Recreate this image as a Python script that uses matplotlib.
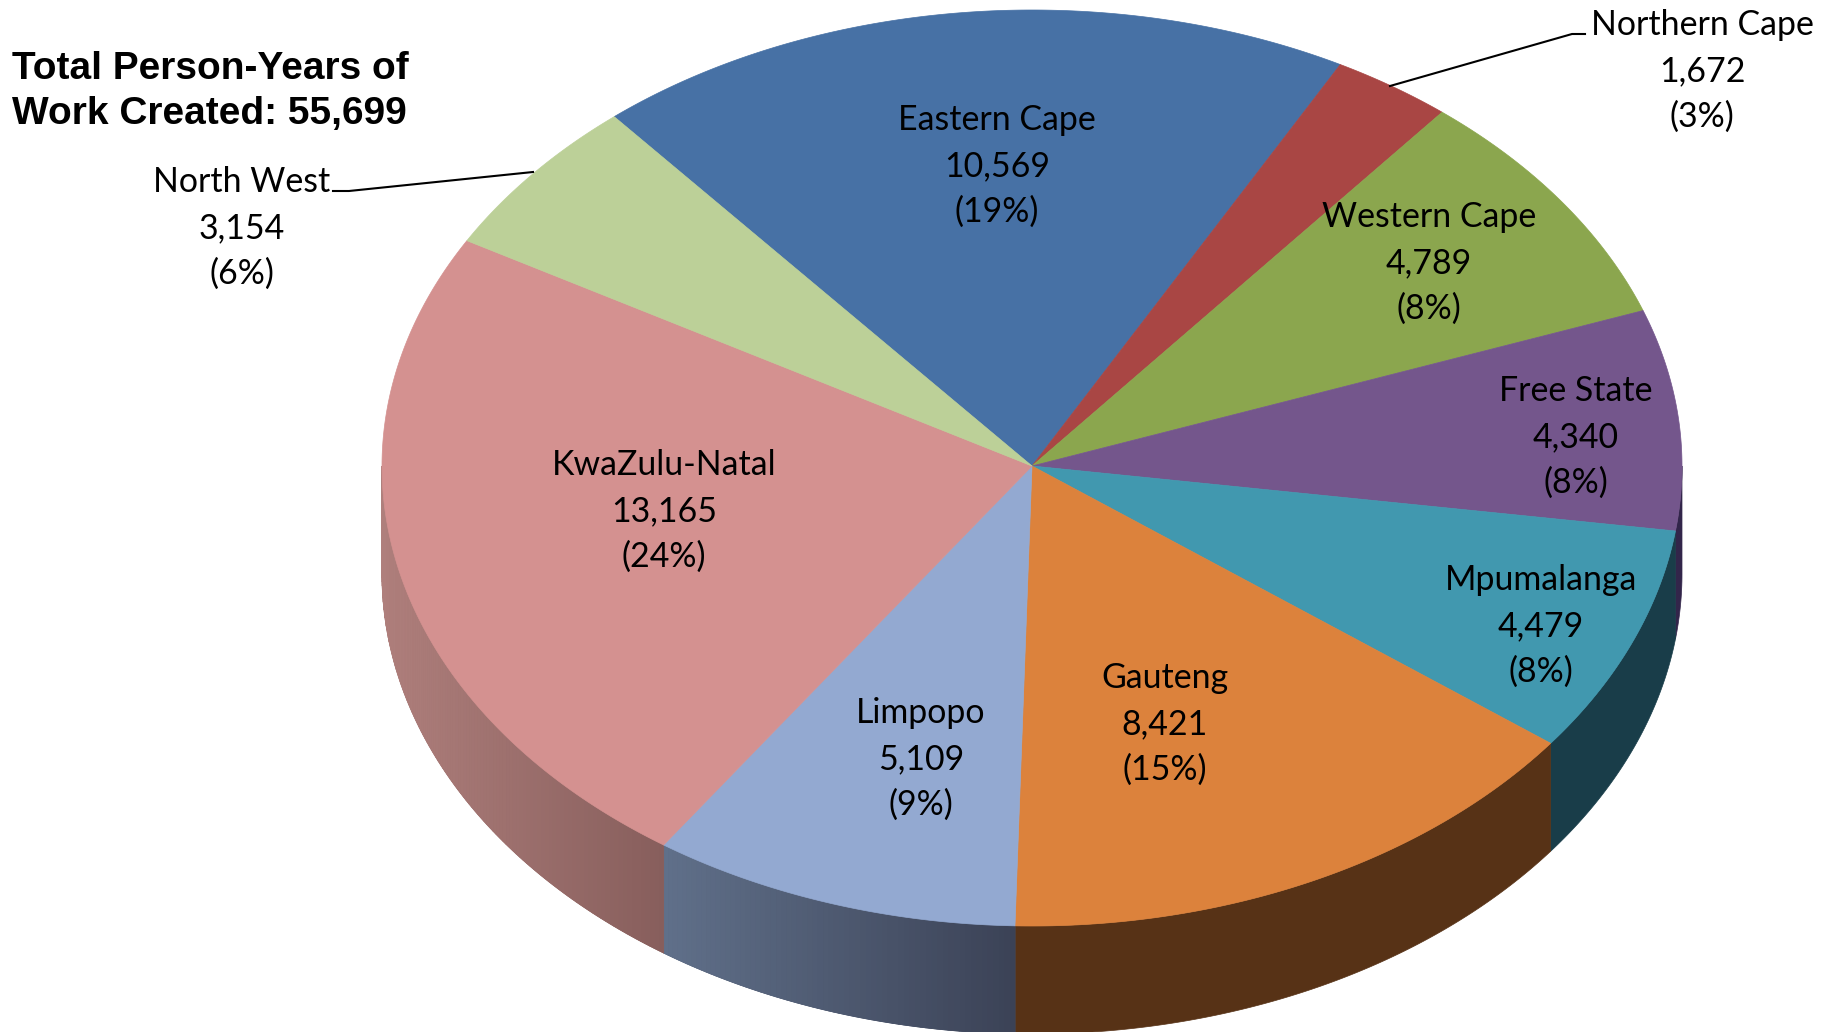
import numpy as np
import matplotlib
matplotlib.use("Agg")
import matplotlib.pyplot as plt
from matplotlib.patches import Polygon

provinces = ["Eastern Cape", "Northern Cape", "Western Cape", "Free State", "Mpumalanga",
             "Gauteng", "Limpopo", "KwaZulu-Natal", "North West"]
person_years = [10569, 1672, 4789, 4340, 4479, 8421, 5109, 13165, 3154]
shown_pct = [19, 3, 8, 8, 8, 15, 9, 24, 6]
top_colors = ["#4771A5", "#A94644", "#8BA64E", "#74568C", "#4198AF",
              "#DC823C", "#93A9D1", "#D49190", "#BCD098"]
# wall colours, left to right across each slice
wall_left = ["#000000", "#000000", "#000000", "#32254A", "#193D49",
             "#573216", "#60708A", "#AF7F7C", "#000000"]
wall_right = ["#000000", "#000000", "#000000", "#32254A", "#193D49",
              "#573216", "#3B4256", "#875E5C", "#000000"]

# label centres in pixels, same order as provinces
label_x = [997, 1702, 1429, 1576, 1541, 1165, 921, 664, 242]
label_y = [166, 71, 263, 437, 626, 724, 759, 511, 228]

CX, CY = 1032, 466
A = 650
B_FRONT, B_BACK = 460, 456  # the far half looks a bit flatter
DEPTH = 108
START = -40.0


def arc(a0, a1, n=200):
    t = np.radians(np.linspace(a0, a1, n))
    c = np.cos(t)
    return CX + A * np.sin(t), CY - np.where(c > 0, B_BACK, B_FRONT) * c


fig = plt.figure(figsize=(18.25, 10.32), dpi=100)
ax = fig.add_axes([0, 0, 1, 1])
ax.set_xlim(0, 1825)
ax.set_ylim(1032, 0)
ax.axis("off")

edges = START + np.cumsum([0] + person_years) / sum(person_years) * 360

# side wall, only the front half of the pie shows it
for i in range(len(provinces)):
    a0 = max(edges[i], 90)
    a1 = min(edges[i + 1], 270)
    if a1 <= a0:
        continue
    x, y = arc(a0, a1, int((a1 - a0) * 2) + 2)
    c0 = np.array(matplotlib.colors.to_rgb(wall_left[i]))
    c1 = np.array(matplotlib.colors.to_rgb(wall_right[i]))
    outline = np.column_stack([np.r_[x, x[::-1]], np.r_[y, y[::-1] + DEPTH]])
    base = (c0 + c1) / 2
    ax.add_patch(Polygon(outline, facecolor=base, edgecolor=base, lw=0.5))
    if wall_left[i] == wall_right[i]:
        continue
    for j in range(len(x) - 1):
        f = (0.5 * (x[j] + x[j + 1]) - x.min()) / (x.max() - x.min())
        col = c0 + (c1 - c0) * f
        quad = [(x[j], y[j]), (x[j + 1], y[j + 1]),
                (x[j + 1], y[j + 1] + DEPTH), (x[j], y[j] + DEPTH)]
        ax.add_patch(Polygon(quad, facecolor=col, edgecolor=col, lw=0.6))

# top face
for i in range(len(provinces)):
    x, y = arc(edges[i], edges[i + 1])
    pts = np.column_stack([np.r_[CX, x], np.r_[CY, y]])
    ax.add_patch(Polygon(pts, facecolor=top_colors[i], edgecolor=top_colors[i], lw=0.5))

for i in range(len(provinces)):
    txt = f"{provinces[i]}\n{person_years[i]:,}\n({shown_pct[i]}%)"
    ax.text(label_x[i], label_y[i], txt, ha="center", va="center", family="Lato",
            fontsize=24.4, linespacing=1.54, color="black")

# leader lines for the two outside labels
ax.plot([533, 349, 333], [172, 191, 191], color="black", lw=1.5)
ax.plot([1390, 1572, 1585], [86, 34, 34], color="black", lw=1.5)

ax.text(12, 69, "Total Person-Years of", ha="left", va="center", family="Liberation Sans",
        fontsize=28, fontweight="bold", color="black")
ax.text(12, 114, "Work Created: 55,699", ha="left", va="center", family="Liberation Sans",
        fontsize=28, fontweight="bold", color="black")

fig.savefig("out.png", dpi=100, facecolor="white")
